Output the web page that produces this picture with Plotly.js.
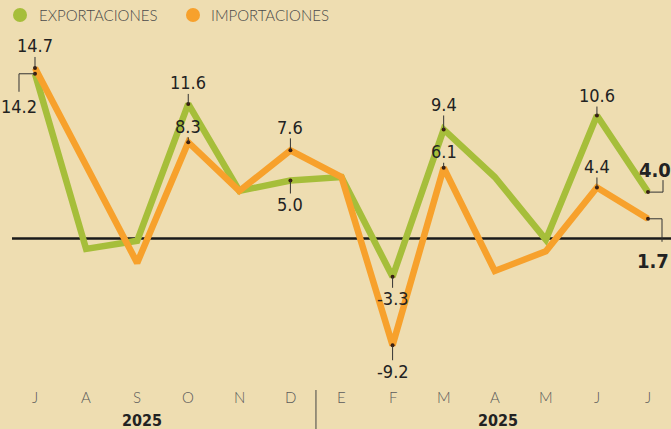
<!DOCTYPE html>
<html>
<head>
<meta charset="utf-8">
<script src="https://cdn.plot.ly/plotly-3.0.1.min.js"></script>
<style>
  html, body { margin: 0; padding: 0; background: #EEDDB1; }
  #chart { width: 671px; height: 429px; }
</style>
</head>
<body>
<div id="chart"></div>
<script>
// ---- data ----
const months = ['J','A','S','O','N','D','E','F','M','A','M','J','J'];
const years = ['2025','2025'];
const exportaciones = [14.2, -0.9, -0.2, 11.6, 4.1, 5.0, 5.3, -3.3, 9.4, 5.3, -0.1, 10.6, 4.0];
const importaciones = [14.7, 6.2, -2.1, 8.3, 4.1, 7.6, 5.3, -9.2, 6.1, -2.8, -1.1, 4.4, 1.7];
const seriesNames = ['EXPORTACIONES', 'IMPORTACIONES'];

// labelled points: [index, vertical pixel offset of text]
const expLabels = [[0, 0], [3, -21], [5, 24], [7, 22], [8, -25], [11, -20]];
const impLabels = [[0, -22], [3, -16], [5, -23], [7, 26], [8, -16], [11, -21]];

// ---- geometry ----
const W = 671, H = 429;
const xr = [-0.685, 12.45];
const yr = [-16.42, 20.56];
const pxX = W / (xr[1] - xr[0]);
const pxY = H / (yr[1] - yr[0]);
const dx = p => p / pxX;
const dy = p => p / pxY;
const py = p => 1 - p / H;   // paper y from pixel from top
const pxp = p => p / W;      // paper x from pixel

const green = '#A6BE3A';
const orange = '#F7A12C';
const ink = '#222222';
const condFamily = 'DejaVu Sans Condensed, DejaVu Sans, sans-serif';
const numFont = {family: condFamily, size: 18, color: ink, stretch: 'condensed'};
const x = months.map((m, i) => i);

const traces = [
  {x: x, y: exportaciones, mode: 'lines', line: {color: green, width: 6.5}, hoverinfo: 'skip', name: seriesNames[0]},
  {x: x, y: importaciones, mode: 'lines', line: {color: orange, width: 6.5}, hoverinfo: 'skip', name: seriesNames[1]}
];

// dots at labelled points
const dotX = [], dotY = [];
expLabels.forEach(([i]) => { dotX.push(i); dotY.push(exportaciones[i]); });
dotX.push(12); dotY.push(exportaciones[12]);
impLabels.forEach(([i]) => { dotX.push(i); dotY.push(importaciones[i]); });
dotX.push(12); dotY.push(importaciones[12]);
traces.push({x: dotX, y: dotY, mode: 'markers', marker: {size: 4, color: '#3a1e10'}, hoverinfo: 'skip'});

const annotations = [];
const shapes = [];

// zero line
shapes.push({type: 'line', xref: 'paper', yref: 'y', x0: pxp(12), x1: 1, y0: 0, y1: 0,
  line: {color: '#1a1a1a', width: 2.5}, layer: 'below'});

function leaderLabel(idx, val, off) {
  annotations.push({x: idx, y: val, xref: 'x', yref: 'y', text: val.toFixed(1),
    showarrow: true, arrowhead: 0, arrowwidth: 1, arrowcolor: '#333', ax: 0, ay: off,
    font: numFont, borderpad: 0});
}
expLabels.forEach(([i, off]) => { if (i !== 0) leaderLabel(i, exportaciones[i], off); });
impLabels.forEach(([i, off]) => leaderLabel(i, importaciones[i], off));

// 14.2 bracket (exports first point)
{
  const v = exportaciones[0];
  shapes.push({type: 'path', xref: 'x', yref: 'y',
    path: `M 0 ${v} L ${-dx(16)} ${v} L ${-dx(16)} ${v - dy(18)}`,
    line: {color: '#333', width: 1}});
  annotations.push({x: 0, y: v, xref: 'x', yref: 'y', text: v.toFixed(1), showarrow: false,
    xshift: -16, yshift: -33, font: numFont});
}
// last export (bold) 4.0
{
  const v = exportaciones[12];
  shapes.push({type: 'path', xref: 'x', yref: 'y',
    path: `M 12 ${v} L ${12 + dx(15)} ${v} L ${12 + dx(15)} ${v + dy(12)}`,
    line: {color: '#333', width: 1}});
  annotations.push({x: 12, y: v, xref: 'x', yref: 'y', text: '<b>' + v.toFixed(1) + '</b>', showarrow: false,
    xshift: 7, yshift: 22, font: Object.assign({}, numFont, {size: 20})});
}
// last import (bold) 1.7
{
  const v = importaciones[12];
  shapes.push({type: 'path', xref: 'x', yref: 'y',
    path: `M 12 ${v} L ${12 + dx(14)} ${v} L ${12 + dx(14)} ${v - dy(23)}`,
    line: {color: '#333', width: 1}});
  annotations.push({x: 12, y: v, xref: 'x', yref: 'y', text: '<b>' + v.toFixed(1) + '</b>', showarrow: false,
    xshift: 5, yshift: -42, font: Object.assign({}, numFont, {size: 20})});
}

// month labels
months.forEach((m, i) => {
  annotations.push({x: i, y: py(397), xref: 'x', yref: 'paper', yanchor: 'middle', text: m, showarrow: false,
    font: {family: 'Lato, Open Sans, sans-serif', size: 15, color: '#5a5a5a', weight: 300}});
});
// year labels
[2.1, 9.07].forEach((xv, k) => {
  annotations.push({x: xv, y: py(420), xref: 'x', yref: 'paper', yanchor: 'middle', text: '<b>' + years[k] + '</b>', showarrow: false,
    font: {family: condFamily, size: 16, color: ink, stretch: 'condensed'}});
});
// divider between D and E
shapes.push({type: 'line', xref: 'x', yref: 'paper', x0: 5.5, x1: 5.5, y0: 0, y1: py(390),
  line: {color: '#444', width: 1}});

// legend
[[20, green, 37], [193, orange, 209]].forEach(([cx, col, tx], k) => {
  shapes.push({type: 'circle', xref: 'paper', yref: 'paper',
    x0: pxp(cx - 7), x1: pxp(cx + 7), y0: py(22), y1: py(8),
    fillcolor: col, line: {width: 0}});
  annotations.push({x: pxp(tx), y: py(15), xref: 'paper', yref: 'paper', xanchor: 'left', yanchor: 'middle',
    text: seriesNames[k], showarrow: false,
    font: {family: 'Lato, Open Sans, sans-serif', size: 15, color: '#4a4a4a', weight: 300}});
});

const layout = {
  width: W, height: H,
  margin: {l: 0, r: 0, t: 0, b: 0},
  paper_bgcolor: '#EEDDB1', plot_bgcolor: '#EEDDB1',
  showlegend: false,
  xaxis: {range: xr, showgrid: false, zeroline: false, showticklabels: false, showline: false, fixedrange: true},
  yaxis: {range: yr, showgrid: false, zeroline: false, showticklabels: false, showline: false, fixedrange: true},
  shapes: shapes,
  annotations: annotations
};

Plotly.newPlot('chart', traces, layout, {displayModeBar: false, staticPlot: true});
</script>
</body>
</html>
